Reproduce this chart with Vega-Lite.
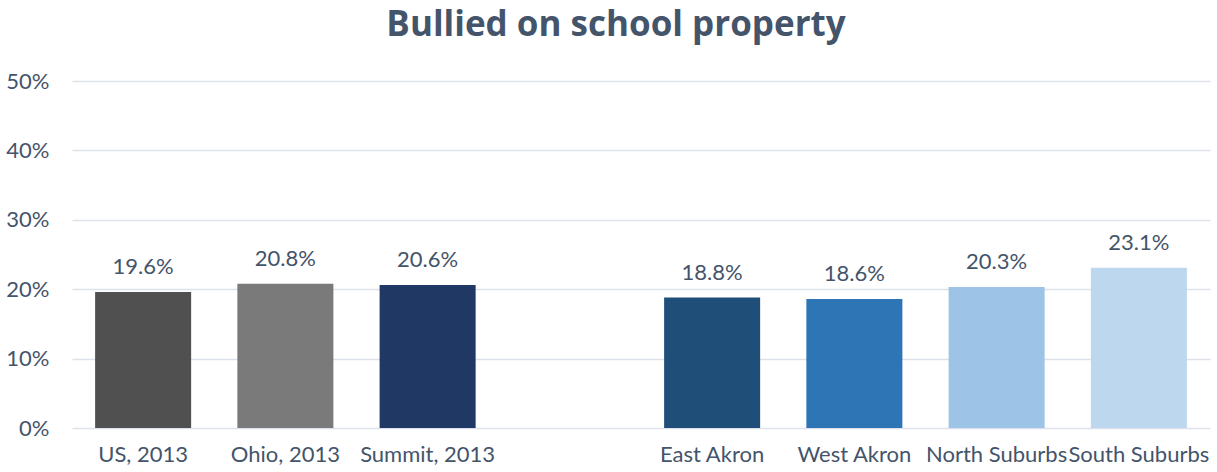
{
  "$schema": "https://vega.github.io/schema/vega-lite/v6.json",
  "autosize": "none",
  "width": 1138,
  "height": 347,
  "padding": {"left": 72, "top": 81, "right": 7, "bottom": 44},
  "background": "white",
  "config": {
    "font": "Lato",
    "view": {"stroke": null}
  },
  "title": {
    "text": "Bullied on school property",
    "fontSize": 35,
    "fontWeight": "bold",
    "color": "#44546A",
    "font": "Open Sans",
    "anchor": "middle",
    "baseline": "alphabetic",
    "dx": -25,
    "dy": 34,
    "offset": 33
  },
  "data": {
    "values": [
      {"area": "US, 2013", "pct": 0.196},
      {"area": "Ohio, 2013", "pct": 0.208},
      {"area": "Summit, 2013", "pct": 0.206},
      {"area": "East Akron", "pct": 0.188},
      {"area": "West Akron", "pct": 0.186},
      {"area": "North Suburbs", "pct": 0.203},
      {"area": "South Suburbs", "pct": 0.231}
    ]
  },
  "encoding": {
    "x": {
      "field": "area",
      "type": "nominal",
      "sort": null,
      "scale": {
        "domain": ["US, 2013", "Ohio, 2013", "Summit, 2013", " ", "East Akron", "West Akron", "North Suburbs", "South Suburbs"],
        "paddingInner": 0.325,
        "paddingOuter": 0.1625
      },
      "axis": {
        "title": null,
        "labelAngle": 0,
        "labelFontSize": 22,
        "labelColor": "#44546A",
        "labelPadding": 16,
        "labelOverlap": false,
        "labelBound": false,
        "ticks": false,
        "domain": false,
        "grid": false
      }
    },
    "y": {
      "field": "pct",
      "type": "quantitative",
      "scale": {"domain": [0, 0.5]},
      "axis": {
        "title": null,
        "format": ".0%",
        "values": [0, 0.1, 0.2, 0.3, 0.4, 0.5],
        "labelFontSize": 22,
        "labelColor": "#44546A",
        "labelPadding": 23,
        "ticks": false,
        "domain": false,
        "grid": true,
        "gridColor": "#DDE2EA",
        "gridWidth": 1.5
      }
    }
  },
  "layer": [
    {
      "mark": {"type": "bar"},
      "encoding": {
        "color": {
          "field": "area",
          "type": "nominal",
          "scale": {
            "domain": ["US, 2013", "Ohio, 2013", "Summit, 2013", "East Akron", "West Akron", "North Suburbs", "South Suburbs"],
            "range": ["#505050", "#7A7A7A", "#203864", "#1F4E79", "#2E75B6", "#9DC3E6", "#BDD7EE"]
          },
          "legend": null
        }
      }
    },
    {
      "mark": {"type": "text", "baseline": "alphabetic", "dy": -18, "fontSize": 22, "color": "#44546A"},
      "encoding": {
        "text": {"field": "pct", "type": "quantitative", "format": ".1%"}
      }
    }
  ]
}
